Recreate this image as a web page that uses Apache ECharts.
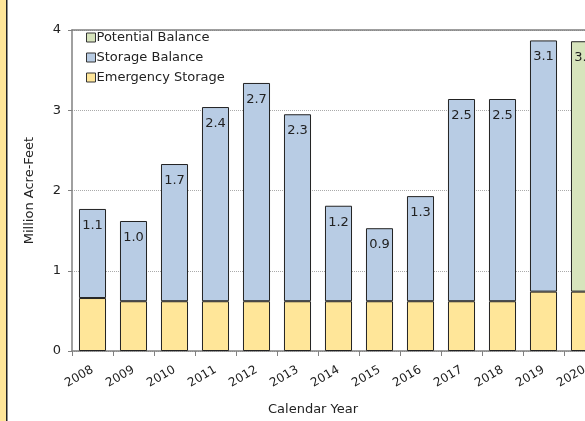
<!DOCTYPE html>
<html><head><meta charset="utf-8">
<script src="https://cdn.jsdelivr.net/npm/echarts@6/dist/echarts.min.js"></script>
<style>html,body{margin:0;padding:0;background:#fff;}#c{width:585px;height:421px;}</style>
</head><body><div id="c"></div>
<script>
var years = ['2008','2009','2010','2011','2012','2013','2014','2015','2016','2017','2018','2019','2020'];
var emergency = [0.66,0.62,0.62,0.62,0.62,0.62,0.62,0.62,0.62,0.62,0.62,0.74,0.74];
var storage = [1.11,1.00,1.71,2.42,2.72,2.33,1.19,0.91,1.31,2.52,2.52,3.13,null];
var potential = [null,null,null,null,null,null,null,null,null,null,null,null,3.12];
var yTicks = [0,1,2,3,4];

var FONT = 'DejaVu Sans';
var chart = echarts.init(document.getElementById('c'));
function lbl(){return {show:true,position:'insideTop',distance:10,color:'#222',fontFamily:FONT,fontSize:13,
  formatter:function(p){return p.value==null?'':p.value.toFixed(1);}};}
chart.setOption({
  animation:false,
  textStyle:{fontFamily:FONT},
  grid:{left:72,top:30,width:533,bottom:70,outerBoundsMode:'none',containLabel:false},
  legend:{left:81,top:26,orient:'vertical',itemWidth:9,itemHeight:9,itemGap:7,icon:'rect',
    textStyle:{fontFamily:FONT,fontSize:13,color:'#222',padding:[0,0,0,-4]},
    data:['Potential Balance','Storage Balance','Emergency Storage'],
    itemStyle:{borderColor:'#333',borderWidth:1}},
  xAxis:[{type:'category',data:years,
    axisLine:{lineStyle:{color:'#808080',width:1.5}},
    axisTick:{show:true,alignWithLabel:false,length:5,lineStyle:{color:'#808080'}},
    axisLabel:{rotate:30,fontFamily:FONT,fontSize:12,color:'#222',margin:18}},
   {type:'category',data:years,position:'top',
    axisLine:{show:true,lineStyle:{color:'#808080',width:1.5}},axisTick:{show:false},axisLabel:{show:false}}],
  yAxis:{type:'value',min:yTicks[0],max:yTicks[yTicks.length-1],interval:1,
    name:'Million Acre-Feet',nameLocation:'middle',nameGap:36,
    nameTextStyle:{fontFamily:FONT,fontSize:13,color:'#222'},
    axisLine:{show:true,lineStyle:{color:'#808080',width:1.5}},
    axisTick:{show:true,length:4,lineStyle:{color:'#808080'}},
    axisLabel:{fontFamily:FONT,fontSize:13,color:'#222',margin:11},
    splitLine:{lineStyle:{color:'#aaa',type:'dotted'}}},
  graphic:[
    {type:'rect',left:0,top:0,shape:{width:6,height:421},style:{fill:'#FFE699'}},
    {type:'rect',left:6,top:0,shape:{width:1.5,height:421},style:{fill:'#222'}},
    {type:'text',left:268,top:403,style:{text:'Calendar Year',fontFamily:FONT,fontSize:13,fill:'#222'}}
  ],
  series:[
    {name:'Emergency Storage',type:'bar',stack:'a',data:emergency,barWidth:'66%',
      itemStyle:{color:'#FFE699',borderColor:'#222',borderWidth:1}},
    {name:'Storage Balance',type:'bar',stack:'a',data:storage,
      itemStyle:{color:'#B8CCE4',borderColor:'#222',borderWidth:1},label:lbl()},
    {name:'Potential Balance',type:'bar',stack:'a',data:potential,
      itemStyle:{color:'#D7E4BC',borderColor:'#222',borderWidth:1},label:lbl()}
  ]
});
</script></body></html>
